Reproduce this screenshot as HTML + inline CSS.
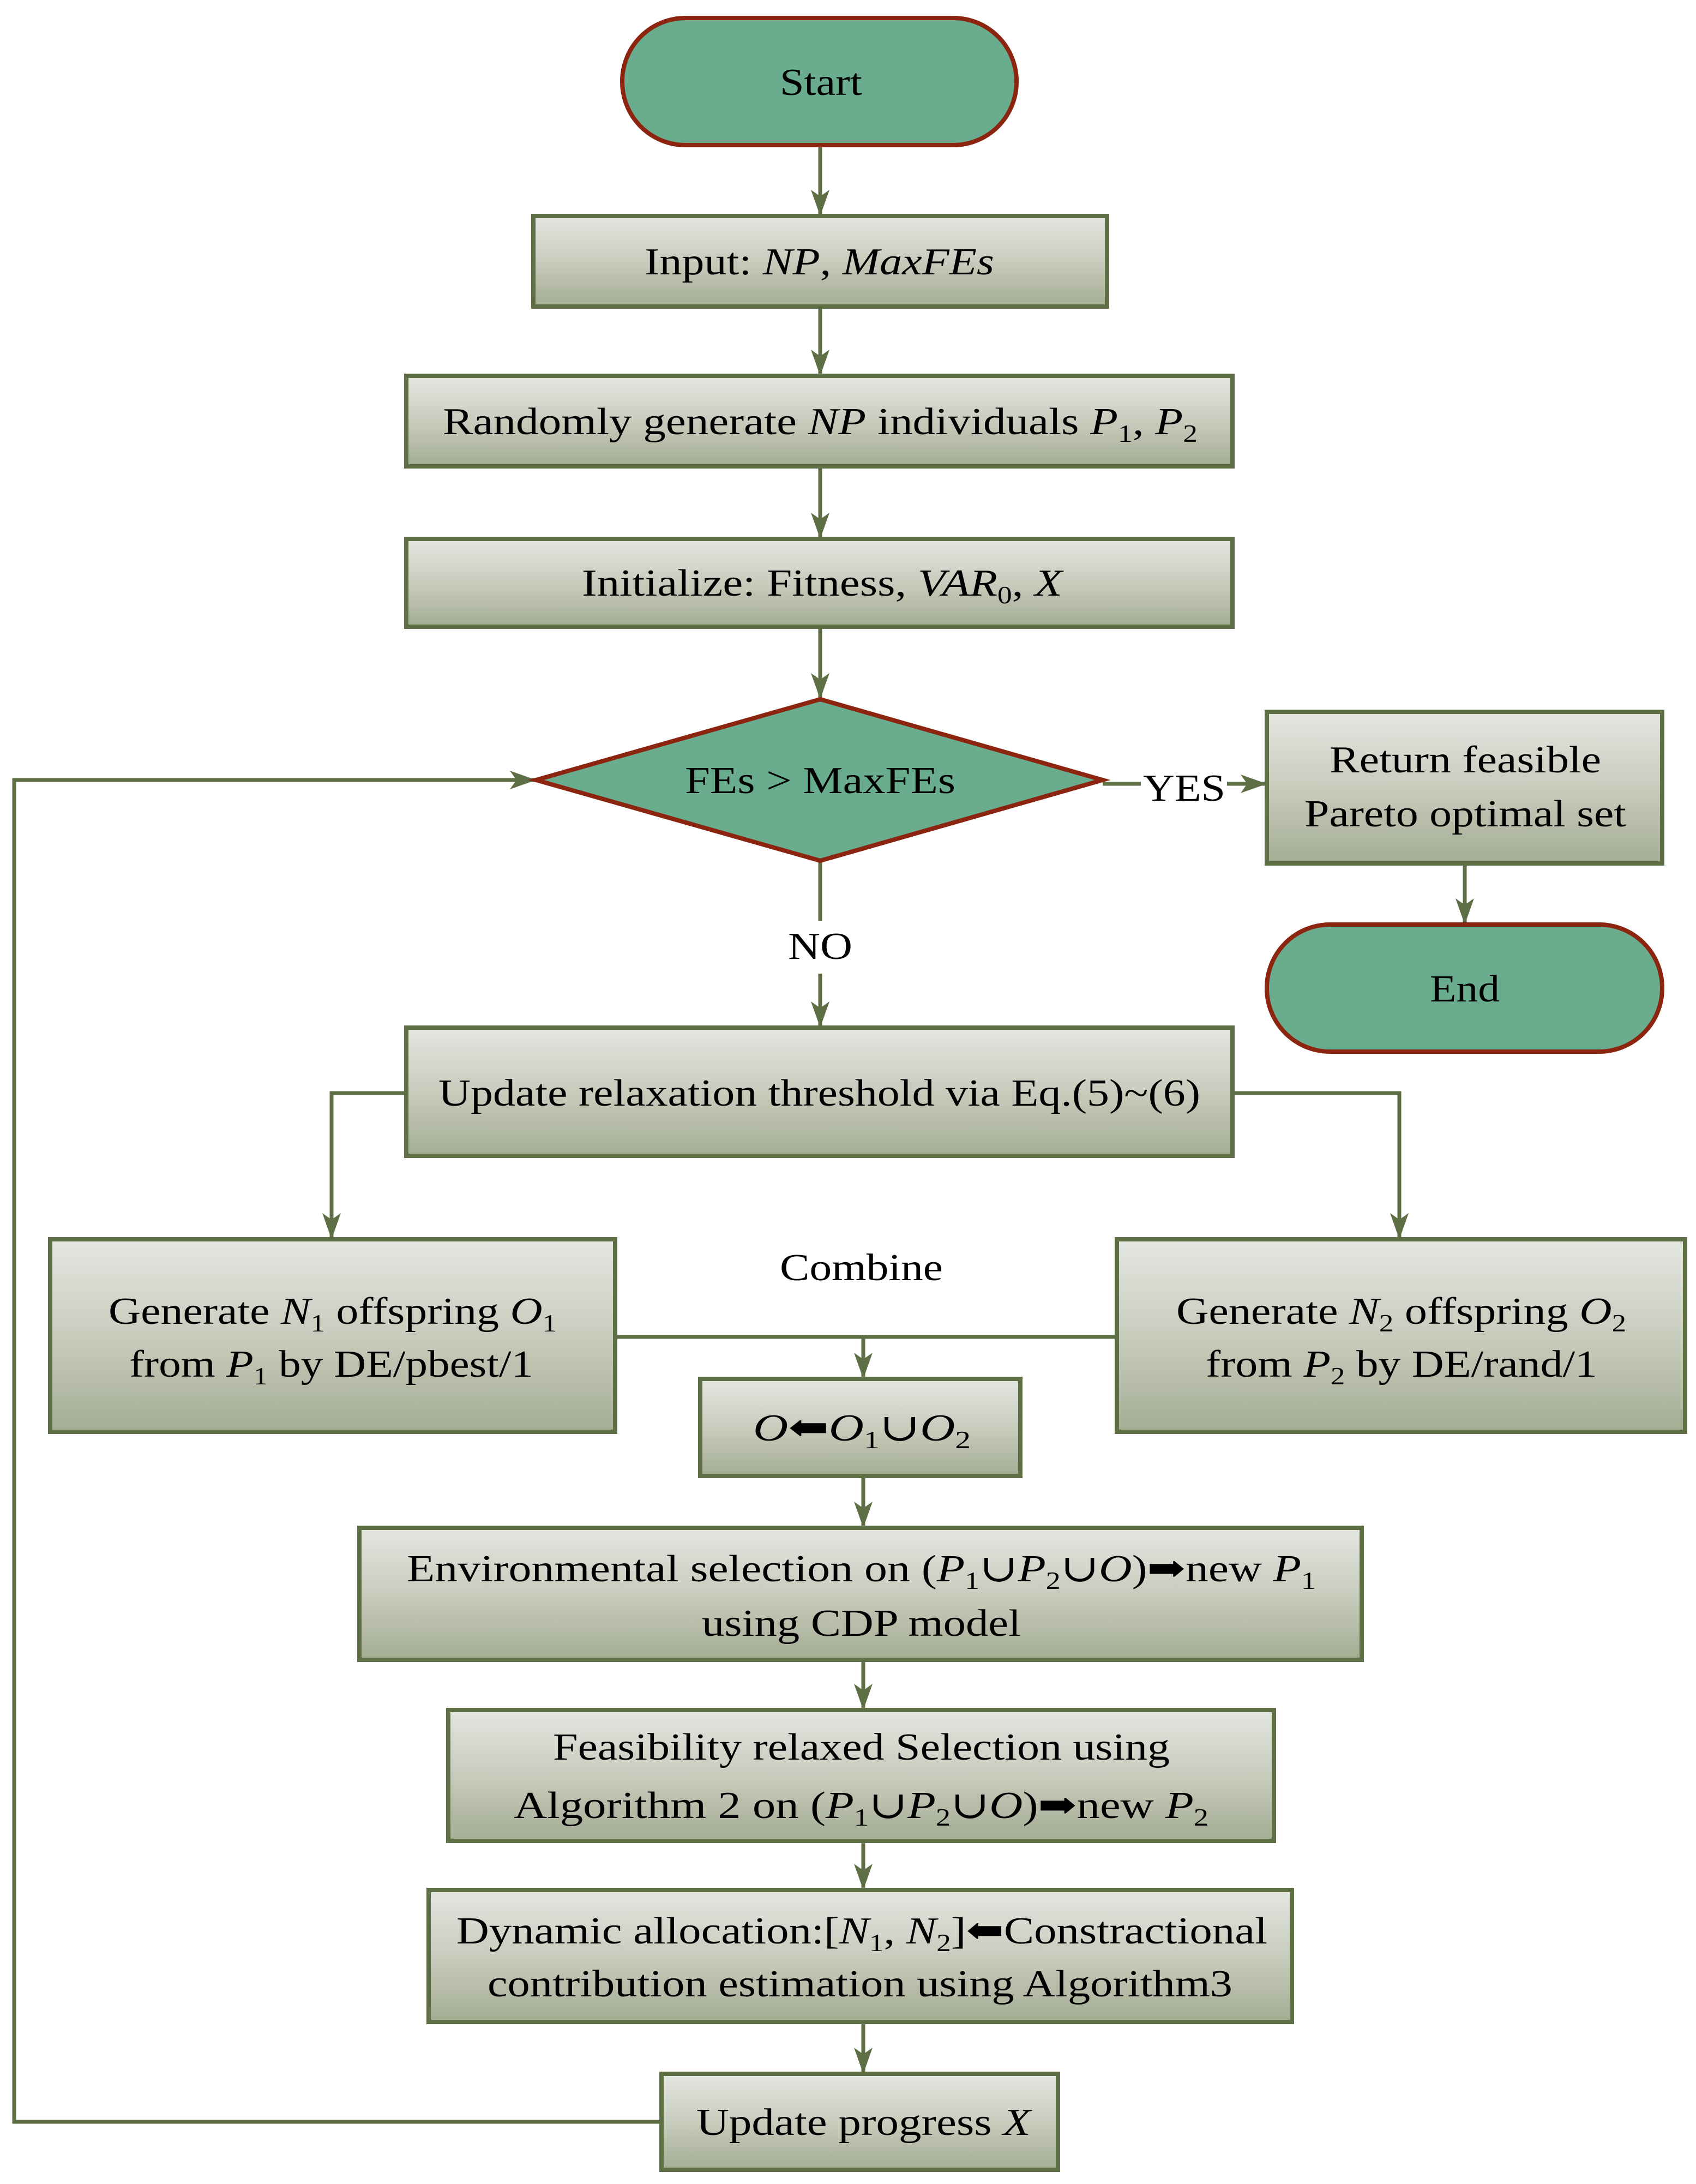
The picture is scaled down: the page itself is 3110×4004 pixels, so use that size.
<!DOCTYPE html>
<html><head><meta charset="utf-8"><style>
html,body{margin:0;padding:0;background:#fff}
svg{display:block}
text{font-family:"Liberation Serif","DejaVu Serif",serif;font-size:70px;fill:#000}
.i{font-style:italic}
</style></head><body>
<svg width="3110" height="4004" viewBox="0 0 3110 4004" xmlns="http://www.w3.org/2000/svg">
<defs>
<linearGradient id="g" x1="0" y1="0" x2="0" y2="1">
<stop offset="0" stop-color="#e4e6e1"/><stop offset="0.5" stop-color="#c8ccbd"/><stop offset="1" stop-color="#a4ac93"/>
</linearGradient>
<marker id="a" markerUnits="userSpaceOnUse" viewBox="-1 -18 50 36" markerWidth="50" markerHeight="36" refX="48" refY="0" orient="auto">
<path d="M0,-17 L48,0 L0,17 L12,0 z" fill="#5e6e45"/>
</marker>
</defs>
<g stroke="#5e6e45" stroke-width="7" fill="none">
<line x1="1504" y1="266" x2="1504" y2="396" marker-end="url(#a)"/>
<line x1="1504" y1="562" x2="1504" y2="689" marker-end="url(#a)"/>
<line x1="1504" y1="855" x2="1504" y2="988" marker-end="url(#a)"/>
<line x1="1504" y1="1149" x2="1504" y2="1282" marker-end="url(#a)"/>
<line x1="1504" y1="1578" x2="1504" y2="1688"/>
<line x1="1504" y1="1785" x2="1504" y2="1884" marker-end="url(#a)"/>
<line x1="2022" y1="1437" x2="2092" y2="1437"/>
<line x1="2250" y1="1437" x2="2323" y2="1437" marker-end="url(#a)"/>
<line x1="2686" y1="1583" x2="2686" y2="1695" marker-end="url(#a)"/>
<polyline points="745,2004 608,2004 608,2272" marker-end="url(#a)"/>
<polyline points="2260,2004 2566,2004 2566,2272" marker-end="url(#a)"/>
<line x1="1128" y1="2451" x2="2048" y2="2451"/>
<line x1="1583" y1="2451" x2="1583" y2="2528" marker-end="url(#a)"/>
<line x1="1583" y1="2706" x2="1583" y2="2801" marker-end="url(#a)"/>
<line x1="1583" y1="3043" x2="1583" y2="3135" marker-end="url(#a)"/>
<line x1="1583" y1="3375" x2="1583" y2="3465" marker-end="url(#a)"/>
<line x1="1583" y1="3707" x2="1583" y2="3802" marker-end="url(#a)"/>
<polyline points="1213,3890 26,3890 26,1430 983,1430" marker-end="url(#a)"/>
</g>
<g stroke="#8b2510" stroke-width="8" fill="#6aad8e">
<rect x="1141" y="33" width="723" height="233" rx="116" ry="116"/>
<polygon points="983,1430 1504,1282 2022,1430 1504,1578"/>
<rect x="2323" y="1695" width="725" height="233" rx="116" ry="116"/>
</g>
<g stroke="#5e6e45" stroke-width="8" fill="url(#g)">
<rect x="978" y="396" width="1052" height="166"/>
<rect x="745" y="689" width="1515" height="166"/>
<rect x="745" y="988" width="1515" height="161"/>
<rect x="2323" y="1305" width="725" height="278"/>
<rect x="745" y="1884" width="1515" height="235"/>
<rect x="92" y="2272" width="1036" height="353"/>
<rect x="2048" y="2272" width="1042" height="353"/>
<rect x="1284" y="2528" width="587" height="178"/>
<rect x="659" y="2801" width="1838" height="242"/>
<rect x="822" y="3135" width="1514" height="240"/>
<rect x="786" y="3465" width="1583" height="242"/>
<rect x="1213" y="3802" width="727" height="176"/>
</g>
<text x="1430" y="174" textLength="151" lengthAdjust="spacingAndGlyphs">Start</text>
<text x="1182" y="503" textLength="641" lengthAdjust="spacingAndGlyphs">Input: <tspan class="i">NP</tspan>, <tspan class="i">MaxFEs</tspan></text>
<text x="812" y="796" textLength="1384" lengthAdjust="spacingAndGlyphs">Randomly generate <tspan class="i">NP</tspan> individuals  <tspan class="i">P</tspan><tspan font-size="45" dy="14">1</tspan><tspan dy="-14">, </tspan><tspan class="i">P</tspan><tspan font-size="45" dy="14">2</tspan></text>
<text x="1067" y="1092" textLength="881" lengthAdjust="spacingAndGlyphs">Initialize: Fitness, <tspan class="i">VAR</tspan><tspan font-size="45" dy="14">0</tspan><tspan dy="-14">, </tspan><tspan class="i">X</tspan></text>
<text x="1256" y="1454" textLength="496" lengthAdjust="spacingAndGlyphs">FEs &gt; MaxFEs</text>
<text x="2096" y="1468" textLength="151" lengthAdjust="spacingAndGlyphs">YES</text>
<text x="1445" y="1758" textLength="118" lengthAdjust="spacingAndGlyphs">NO</text>
<text x="2438" y="1416" textLength="498" lengthAdjust="spacingAndGlyphs">Return feasible</text>
<text x="2392" y="1515" textLength="590" lengthAdjust="spacingAndGlyphs">Pareto optimal set</text>
<text x="2622" y="1836" textLength="128" lengthAdjust="spacingAndGlyphs">End</text>
<text x="804" y="2027" textLength="1397" lengthAdjust="spacingAndGlyphs">Update relaxation threshold via Eq.(5)~(6)</text>
<text x="1430" y="2347" textLength="299" lengthAdjust="spacingAndGlyphs">Combine</text>
<text x="199" y="2427" textLength="822" lengthAdjust="spacingAndGlyphs">Generate <tspan class="i">N</tspan><tspan font-size="45" dy="14">1</tspan><tspan dy="-14"> offspring </tspan><tspan class="i">O</tspan><tspan font-size="45" dy="14">1</tspan></text>
<text x="237" y="2524" textLength="741" lengthAdjust="spacingAndGlyphs">from <tspan class="i">P</tspan><tspan font-size="45" dy="14">1</tspan><tspan dy="-14"> by DE/pbest/1</tspan></text>
<text x="2157" y="2427" textLength="825" lengthAdjust="spacingAndGlyphs">Generate <tspan class="i">N</tspan><tspan font-size="45" dy="14">2</tspan><tspan dy="-14"> offspring </tspan><tspan class="i">O</tspan><tspan font-size="45" dy="14">2</tspan></text>
<text x="2211" y="2524" textLength="718" lengthAdjust="spacingAndGlyphs">from <tspan class="i">P</tspan><tspan font-size="45" dy="14">2</tspan><tspan dy="-14"> by DE/rand/1</tspan></text>
<text x="1381" y="2641" textLength="399" lengthAdjust="spacingAndGlyphs"><tspan class="i">O</tspan>⬅<tspan class="i">O</tspan><tspan font-size="45" dy="14">1</tspan><tspan dy="-14">∪</tspan><tspan class="i">O</tspan><tspan font-size="45" dy="14">2</tspan></text>
<text x="746" y="2899" textLength="1667" lengthAdjust="spacingAndGlyphs">Environmental selection on (<tspan class="i">P</tspan><tspan font-size="45" dy="14">1</tspan><tspan dy="-14">∪</tspan><tspan class="i">P</tspan><tspan font-size="45" dy="14">2</tspan><tspan dy="-14">∪</tspan><tspan class="i">O</tspan>)➡new <tspan class="i">P</tspan><tspan font-size="45" dy="14">1</tspan></text>
<text x="1287" y="2999" textLength="585" lengthAdjust="spacingAndGlyphs">using CDP model</text>
<text x="1014" y="3226" textLength="1131" lengthAdjust="spacingAndGlyphs">Feasibility relaxed Selection using</text>
<text x="942" y="3333" textLength="1274" lengthAdjust="spacingAndGlyphs">Algorithm 2 on (<tspan class="i">P</tspan><tspan font-size="45" dy="14">1</tspan><tspan dy="-14">∪</tspan><tspan class="i">P</tspan><tspan font-size="45" dy="14">2</tspan><tspan dy="-14">∪</tspan><tspan class="i">O</tspan>)➡new <tspan class="i">P</tspan><tspan font-size="45" dy="14">2</tspan></text>
<text x="837" y="3563" textLength="1487" lengthAdjust="spacingAndGlyphs">Dynamic allocation:[<tspan class="i">N</tspan><tspan font-size="45" dy="14">1</tspan><tspan dy="-14">, </tspan><tspan class="i">N</tspan><tspan font-size="45" dy="14">2</tspan><tspan dy="-14">]⬅Constractional</tspan></text>
<text x="894" y="3660" textLength="1366" lengthAdjust="spacingAndGlyphs">contribution estimation using Algorithm3</text>
<text x="1277" y="3914" textLength="613" lengthAdjust="spacingAndGlyphs">Update progress <tspan class="i">X</tspan></text>
</svg>
</body></html>
